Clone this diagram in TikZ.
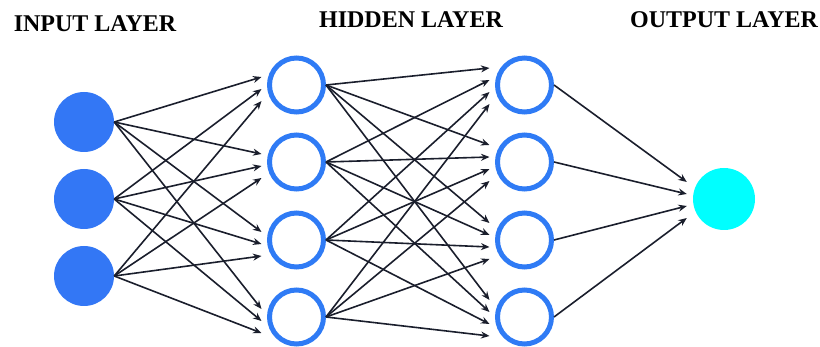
\documentclass[tikz,border=0pt]{standalone}
\usepackage{fontspec}
\setmainfont{Liberation Serif}
\usetikzlibrary{arrows.meta}

\definecolor{inblue}{HTML}{3377F5}
\definecolor{ringblue}{HTML}{2F7BF5}
\definecolor{outcyan}{HTML}{00FFFF}
\definecolor{edgecol}{HTML}{1A1E2C}

\tikzset{
  innode/.style = {circle, fill=inblue, minimum size=60pt, inner sep=0pt},
  hidnode/.style = {circle, draw=ringblue, line width=5pt, fill=white, minimum size=54pt, inner sep=0pt},
  outnode/.style = {circle, fill=outcyan, minimum size=62pt, inner sep=0pt},
  edge/.style = {draw=edgecol, line width=1.6pt, -{Stealth[length=8.5pt,width=7pt]}},
  layerlab/.style = {anchor=base, font=\fontsize{24}{28}\selectfont\bfseries}
}

\begin{document}
\begin{tikzpicture}[x=1pt, y=-1pt]
\useasboundingbox (0,0) rectangle (820,347);

% layer titles
\node [layerlab] (inlab) at (95,32) {INPUT LAYER};
\node [layerlab] (hidlab) at (411,28) {HIDDEN LAYER};
\node [layerlab] (outlab) at (724,28) {OUTPUT LAYER};

% neurons
\foreach \i/\y in {1/122, 2/199, 3/276}
  \node [innode] (in\i) at (84,\y) {};
\foreach \j/\y in {1/85, 2/162, 3/240, 4/317} {
  \node [hidnode] (ha\j) at (296.5,\y) {};
  \node [hidnode] (hb\j) at (524.5,\y) {};
}
\node [outnode] (out) at (724,199) {};

% input -> hidden 1
\foreach \i in {1,2,3}
  \foreach \j in {1,2,3,4}
    \draw [edge] (in\i.east) -- ([xshift=-5.5pt, yshift={8-12*(\i-1)}]ha\j.west);

% hidden 1 -> hidden 2
\foreach \i in {1,2,3,4}
  \foreach \j in {1,2,3,4}
    \draw [edge] (ha\i.east) -- ([xshift=-5.5pt, yshift={17-12*(\i-1)}]hb\j.west);

% hidden 2 -> output
\foreach \i in {1,2,3,4}
  \draw [edge] (hb\i.east) -- ([xshift=-6pt, yshift={17-12*(\i-1)}]out.west);
\end{tikzpicture}
\end{document}
